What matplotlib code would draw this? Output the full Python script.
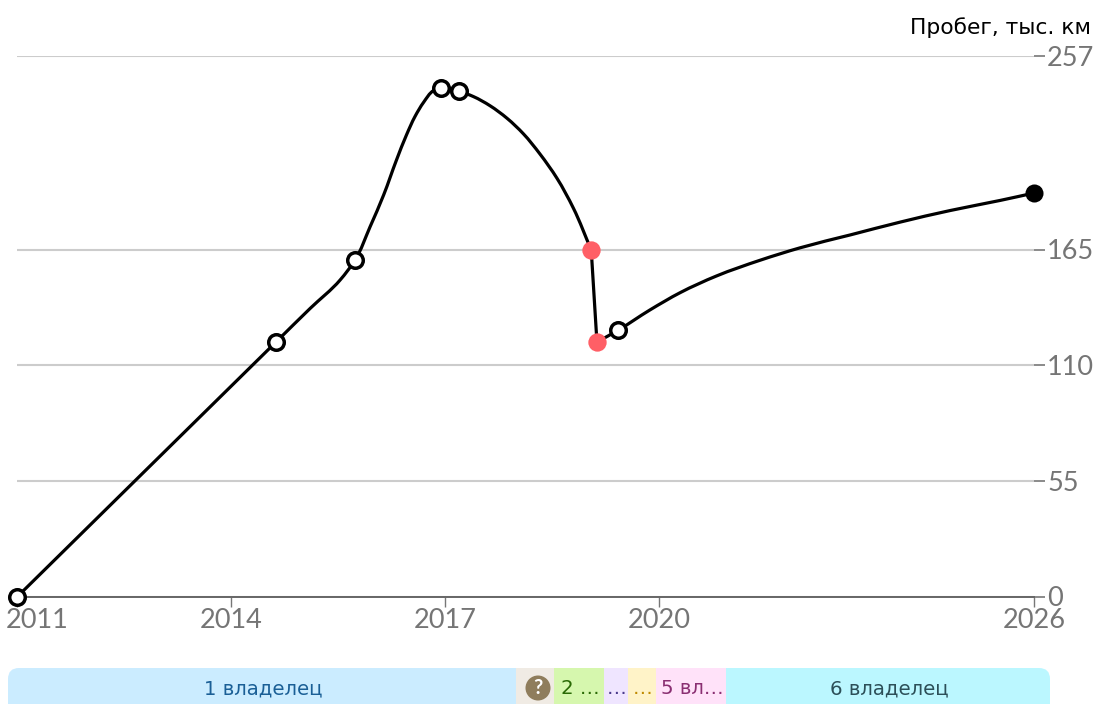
import numpy as np
import matplotlib
matplotlib.use("Agg")
import matplotlib.pyplot as plt
from matplotlib.patches import Rectangle, FancyBboxPatch, Circle, PathPatch
from matplotlib.path import Path

plt.rcParams['font.family'] = ['Lato', 'DejaVu Sans']

# Data ---------------------------------------------------------------
years = [2011.00, 2014.63, 2015.11, 2015.53, 2015.74, 2015.95,
         2016.14, 2016.32, 2016.46, 2016.58, 2016.70, 2016.84, 2016.94, 2017.20, 2017.40,
         2017.63, 2017.87, 2018.10, 2018.33, 2018.57, 2018.80, 2019.05,
         2019.13, 2019.43, 2019.87, 2020.34, 2020.92, 2021.62, 2022.26, 2023.06,
         2023.86, 2024.66, 2025.46, 2026.00]
mileage = [0.0, 121.1, 137.1, 150.6, 160.1, 175.9,
           191.0, 207.6, 219.5, 228.3, 235.0, 240.6, 242.0, 240.2, 237.7,
           233.4, 227.4, 220.0, 210.5, 198.9, 184.7, 164.8,
           121.1, 126.8, 136.3, 144.6, 152.5, 160.0, 165.9, 172.0,
           178.1, 183.6, 188.4, 191.9]
ok_years = [2011.00, 2014.63, 2015.74, 2016.94, 2017.20, 2019.43]
ok_mileage = [0.0, 121.1, 160.1, 242.0, 240.2, 126.8]
bad_years = [2019.05, 2019.13]
bad_mileage = [164.8, 121.1]
last_year = [2026.00]
last_mileage = [191.9]
x_ticks = [2011, 2014, 2017, 2020, 2026]
y_ticks = [0, 55, 110, 165, 257]
owner_labels = ['1 владелец', '', '2 …', '…', '…', '5 вл…', '6 владелец']
owner_widths = [508, 38, 50, 24, 28, 70, 324]
owner_fills = ['#cbecff', '#f0ebe4', '#d6f7ae', '#efe5ff', '#fff3c8', '#ffe2f9', '#bbf7ff']
owner_text = ['#1a5f96', '#8f7d5c', '#2a6a05', '#4a3a8c', '#c08a00', '#8a2f72', '#2c4f58']

# Layout -------------------------------------------------------------
W, H = 1098, 704
fig = plt.figure(figsize=(W / 100, H / 100), dpi=100)
ax = fig.add_axes([17 / W, 1 - 597 / H, (1034 - 17) / W, (597 - 56) / H])

# The time axis is not uniform: equal tick gaps up to 2020, then a tighter one.
tick_pos = [0, 214, 428, 642, 1017]
fwd = lambda v: np.interp(v, x_ticks, tick_pos)
inv = lambda v: np.interp(v, tick_pos, x_ticks)
ax.set_xscale('function', functions=(fwd, inv))
ax.set_xlim(2011, 2026)
ax.set_ylim(0, 257)

for s in ['top', 'left', 'right']:
    ax.spines[s].set_visible(False)
ax.spines['bottom'].set_color('#666666')
ax.spines['bottom'].set_linewidth(1.4)

ax.set_xticks(x_ticks)
ax.set_xticklabels([])
ax.minorticks_off()
ax.tick_params(axis='x', length=7.5, width=1, color='#777777')
ax.yaxis.tick_right()
ax.set_yticks(y_ticks)
ax.set_yticklabels([])
ax.tick_params(axis='y', length=8, width=1.2, color='#777777')
ax.grid(axis='y', color='#cccccc', linewidth=1.5)
ax.set_axisbelow(True)


def smooth_leg(xs, ys):
    """Draw a rounded stroke through the given points (bezier through each one)."""
    px = fwd(np.array(xs))
    py = np.array(ys) * (597 - 56) / 257
    pts = np.column_stack([px, py])
    n = len(pts)
    seg = np.diff(pts, axis=0)
    lens = np.hypot(seg[:, 0], seg[:, 1])
    unit = seg / lens[:, None]
    tang = np.zeros_like(pts)
    tang[0], tang[-1] = unit[0], unit[-1]
    for i in range(1, n - 1):
        t = unit[i - 1] * lens[i] + unit[i] * lens[i - 1]
        tang[i] = t / np.hypot(*t)
    verts, codes = [pts[0]], [Path.MOVETO]
    for i in range(n - 1):
        d = lens[i] / 3
        verts += [pts[i] + tang[i] * d, pts[i + 1] - tang[i + 1] * d, pts[i + 1]]
        codes += [Path.CURVE4] * 3
    verts = np.array(verts)
    verts = np.column_stack([inv(verts[:, 0]), verts[:, 1] * 257 / (597 - 56)])
    ax.add_patch(PathPatch(Path(verts, codes), fc='none', ec='black', lw=2.3,
                           clip_on=False, zorder=3, capstyle='round', joinstyle='round'))


i1 = years.index(bad_years[0])
i2 = years.index(bad_years[1])
smooth_leg(years[:i1 + 1], mileage[:i1 + 1])
ax.plot(years[i1:i2 + 1], mileage[i1:i2 + 1], color='black', lw=2.3, clip_on=False, zorder=3)
smooth_leg(years[i2:], mileage[i2:])

ax.plot(ok_years, ok_mileage, 'o', ms=11.2, mfc='white', mec='black', mew=2.5,
        clip_on=False, zorder=4)
ax.plot(bad_years, bad_mileage, 'o', ms=13.2, mfc='#ff5f66', mec='none', clip_on=False, zorder=5)
ax.plot(last_year, last_mileage, 'o', ms=13, mfc='black', mec='none', clip_on=False, zorder=5)

# Overlay in pixel coordinates ---------------------------------------
ov = fig.add_axes([0, 0, 1, 1], facecolor='none')
ov.set_xlim(0, W)
ov.set_ylim(H, 0)
ov.axis('off')

TICK = '#757575'
FS = 19.5
for i, (yr, p) in enumerate(zip(x_ticks, tick_pos)):
    cx = 17 + p if i else 37.5
    ov.text(cx, 621, str(yr), ha='center', va='center', fontsize=FS, color=TICK)
for v in y_ticks:
    py = 597 - v * (597 - 56) / 257
    ov.text(1047, py + 2, str(v), ha='left', va='center', fontsize=FS, color=TICK)
ov.text(1091, 28, 'Пробег, тыс. км', ha='right', va='center', fontsize=15.7, color='black',
        family='DejaVu Sans')

# Owner strip
x0, top, bottom = 8, 668, 730
clip = FancyBboxPatch((x0, top), sum(owner_widths), bottom - top,
                      boxstyle='round,pad=0,rounding_size=11', transform=ov.transData,
                      fc='none', ec='none')
ov.add_patch(clip)
x = x0
for lab, w, fill, col in zip(owner_labels, owner_widths, owner_fills, owner_text):
    r = Rectangle((x, top), w, bottom - top, fc=fill, ec='none')
    ov.add_patch(r)
    r.set_clip_path(clip)
    if lab:
        ov.text(x + w / 2 + 1, 689, lab, ha='center', va='center', fontsize=14.2, color=col,
                family='DejaVu Sans')
    else:
        ov.add_patch(Circle((x + w / 2 + 3, 688), 12.5, fc=col, ec='none'))
        ov.text(x + w / 2 + 3, 688, '?', ha='center', va='center', fontsize=14.5,
                color='white', fontweight='bold')
    x += w

fig.savefig('out.png', dpi=100)
